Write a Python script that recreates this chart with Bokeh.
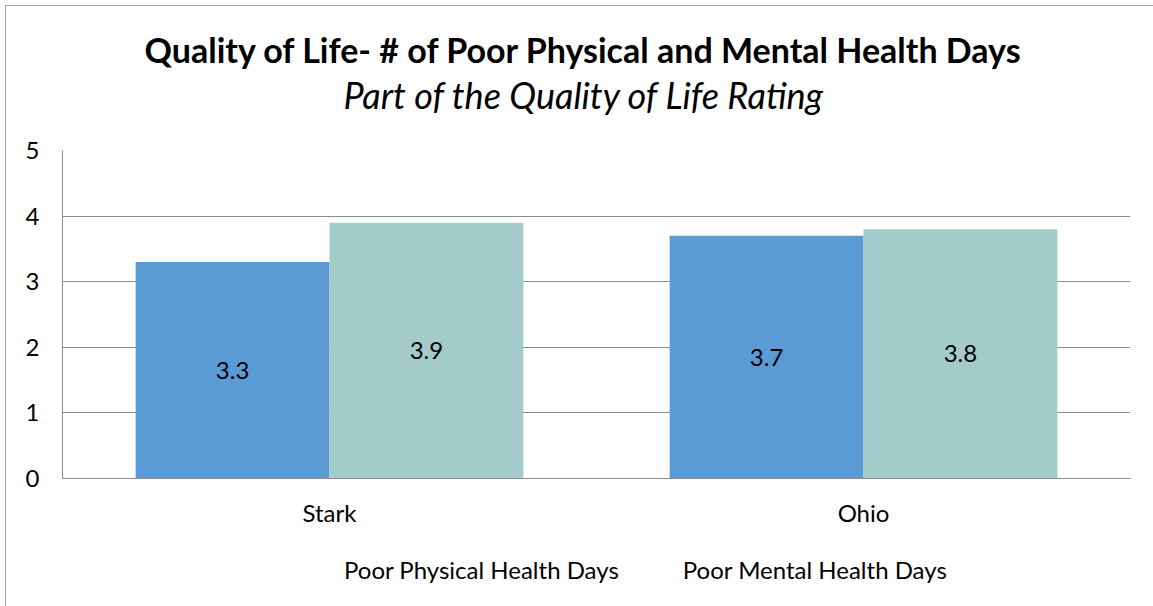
from bokeh.plotting import figure
from bokeh.layouts import column
from bokeh.models import (ColumnDataSource, FactorRange, Range1d, LabelSet,
                          Legend, LegendItem, Title)
from bokeh.core.properties import value
from bokeh.transform import dodge
from bokeh.embed import file_html
from bokeh.resources import INLINE

# Data
categories = ["Stark", "Ohio"]
physical_days = [3.3, 3.7]
mental_days = [3.9, 3.8]
series_names = ["Poor Physical Health Days", "Poor Mental Health Days"]
y_ticks = [0, 1, 2, 3, 4, 5]

title_text = "Quality of Life- # of Poor Physical and Mental Health Days"
subtitle_text = "Part of the Quality of Life Rating"

FONT = "Lato"
FS = "24px"
BLUE = "#5B9BD5"
TEAL = "#A2CBCA"
GRID = "#8C8C8C"

src = ColumnDataSource(dict(
    cat=categories,
    phys=physical_days,
    ment=mental_days,
    phys_mid=[v / 2 for v in physical_days],
    ment_mid=[v / 2 for v in mental_days],
    phys_txt=[f"{v:.1f}" for v in physical_days],
    ment_txt=[f"{v:.1f}" for v in mental_days],
))

# Main chart
p = figure(width=1147, height=536,
           x_range=FactorRange(factors=categories),
           y_range=Range1d(0, 5), output_backend="svg", toolbar_location=None,
           min_border_left=56, min_border_right=23, min_border_top=144,
           min_border_bottom=64)
p.outline_line_color = None
p.background_fill_color = "white"
p.border_fill_color = "white"

bar_w = 0.363
p.vbar(x=dodge("cat", -bar_w / 2, range=p.x_range), top="phys", width=bar_w,
       source=src, fill_color=BLUE, line_color=None)
p.vbar(x=dodge("cat", bar_w / 2, range=p.x_range), top="ment", width=bar_w,
       source=src, fill_color=TEAL, line_color=None)

# Value labels centred inside each bar
for ycol, tcol, off in [("phys_mid", "phys_txt", -bar_w / 2),
                        ("ment_mid", "ment_txt", bar_w / 2)]:
    p.add_layout(LabelSet(x=dodge("cat", off, range=p.x_range), y=ycol, text=tcol,
                          source=src, text_align="center", text_baseline="middle",
                          text_font=value(FONT), text_font_size=value(FS),
                          text_color="black"))

# Axes and grid
p.yaxis.ticker = y_ticks
p.yaxis.axis_line_color = GRID
p.yaxis.major_tick_line_color = None
p.yaxis.minor_tick_line_color = None
p.yaxis.major_label_standoff = 17
p.yaxis.major_label_text_font = FONT
p.yaxis.major_label_text_font_size = FS
p.yaxis.major_label_text_color = "black"

p.xaxis.axis_line_color = GRID
p.xaxis.major_tick_line_color = None
p.xaxis.major_label_standoff = 13
p.xaxis.major_label_text_font = FONT
p.xaxis.major_label_text_font_size = FS
p.xaxis.major_label_text_color = "black"

p.xgrid.grid_line_color = None
p.ygrid.grid_line_color = GRID
p.ygrid.grid_line_width = 1

# Title block: subtitle sits nearest the frame, main title above it
p.add_layout(Title(text=subtitle_text, align="left", text_font=FONT,
                   text_font_style="italic", text_font_size="36px",
                   text_color="black", standoff=67, offset=281), "above")
p.add_layout(Title(text=title_text, align="left", text_font=FONT,
                   text_font_style="bold", text_font_size="34px",
                   text_color="black", standoff=-65, offset=82), "above")

# Legend strip underneath the chart
leg = figure(width=1147, height=64, x_range=Range1d(0, 1), y_range=Range1d(0, 1),
             output_backend="svg", toolbar_location=None, min_border=0,
             x_axis_location=None, y_axis_location=None)
leg.outline_line_color = None
leg.grid.visible = False
leg.background_fill_color = "white"
leg.border_fill_color = "white"
k1 = leg.vbar(x=[], top=[], width=0.1, fill_color=BLUE, line_color=None)
k2 = leg.vbar(x=[], top=[], width=0.1, fill_color=TEAL, line_color=None)

legend = Legend(items=[LegendItem(label=series_names[0], renderers=[k1]),
                       LegendItem(label=series_names[1], renderers=[k2])],
                orientation="horizontal", location=(259, 22),
                glyph_width=18, glyph_height=18, label_standoff=5, spacing=41,
                padding=0, margin=0, border_line_color=None,
                background_fill_alpha=0, label_text_font=FONT,
                label_text_font_size=FS, label_text_color="black")
leg.add_layout(legend, "center")

layout = column(p, leg, spacing=0,
                styles={"margin-left": "5px", "margin-top": "5px",
                        "border-left": "1px solid #A6A6A6",
                        "border-top": "1px solid #A6A6A6"})

open("out.html", "w").write(file_html(layout, INLINE))
